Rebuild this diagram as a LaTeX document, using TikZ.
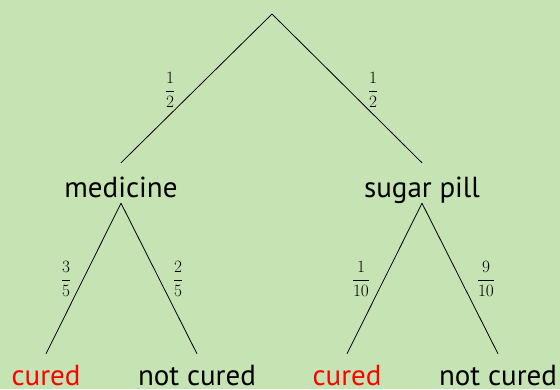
\documentclass[tikz,border=0pt]{standalone}
\usepackage{amsmath}
\usepackage{fontspec}
\setmainfont{PT Sans}
\definecolor{bg}{RGB}{197,227,179}
\begin{document}
\begin{tikzpicture}[x=1pt,y=-1pt,
  lbl/.style={font=\fontsize{29}{34}\selectfont, inner sep=0pt, anchor=base, text height=34pt, text depth=6pt},
  leaf/.style={lbl, text height=31pt, text depth=0pt},
  prob/.style={font=\fontsize{19}{22}\selectfont, inner sep=0pt},
  edge/.style={draw=black, line width=0.8pt}]
\fill[bg] (0,0) rectangle (560,389);
\useasboundingbox (0,0) rectangle (560,389);
\coordinate (root) at (272,14);
\node[lbl] (med) at (121,197) {medicine};
\node[lbl] (sug) at (422,197) {sugar pill};
\node[leaf, text=red] (mc) at (46,385) {cured};
\node[leaf] (mn) at (197,385) {not cured};
\node[leaf, text=red] (sc) at (347,385) {cured};
\node[leaf] (sn) at (498,385) {not cured};
\draw[edge] (root) -- (med.north);
\draw[edge] (root) -- (sug.north);
\draw[edge] (med.south) -- (mc.north);
\draw[edge] (med.south) -- (mn.north);
\draw[edge] (sug.south) -- (sc.north);
\draw[edge] (sug.south) -- (sn.north);
\node[prob] (p1) at (170,90) {$\dfrac{1}{2}$};
\node[prob] (p2) at (373,90) {$\dfrac{1}{2}$};
\node[prob] (p3) at (66,279) {$\dfrac{3}{5}$};
\node[prob] (p4) at (178,279) {$\dfrac{2}{5}$};
\node[prob] (p5) at (361,279) {$\dfrac{1}{10}$};
\node[prob] (p6) at (486,279) {$\dfrac{9}{10}$};
\end{tikzpicture}
\end{document}
